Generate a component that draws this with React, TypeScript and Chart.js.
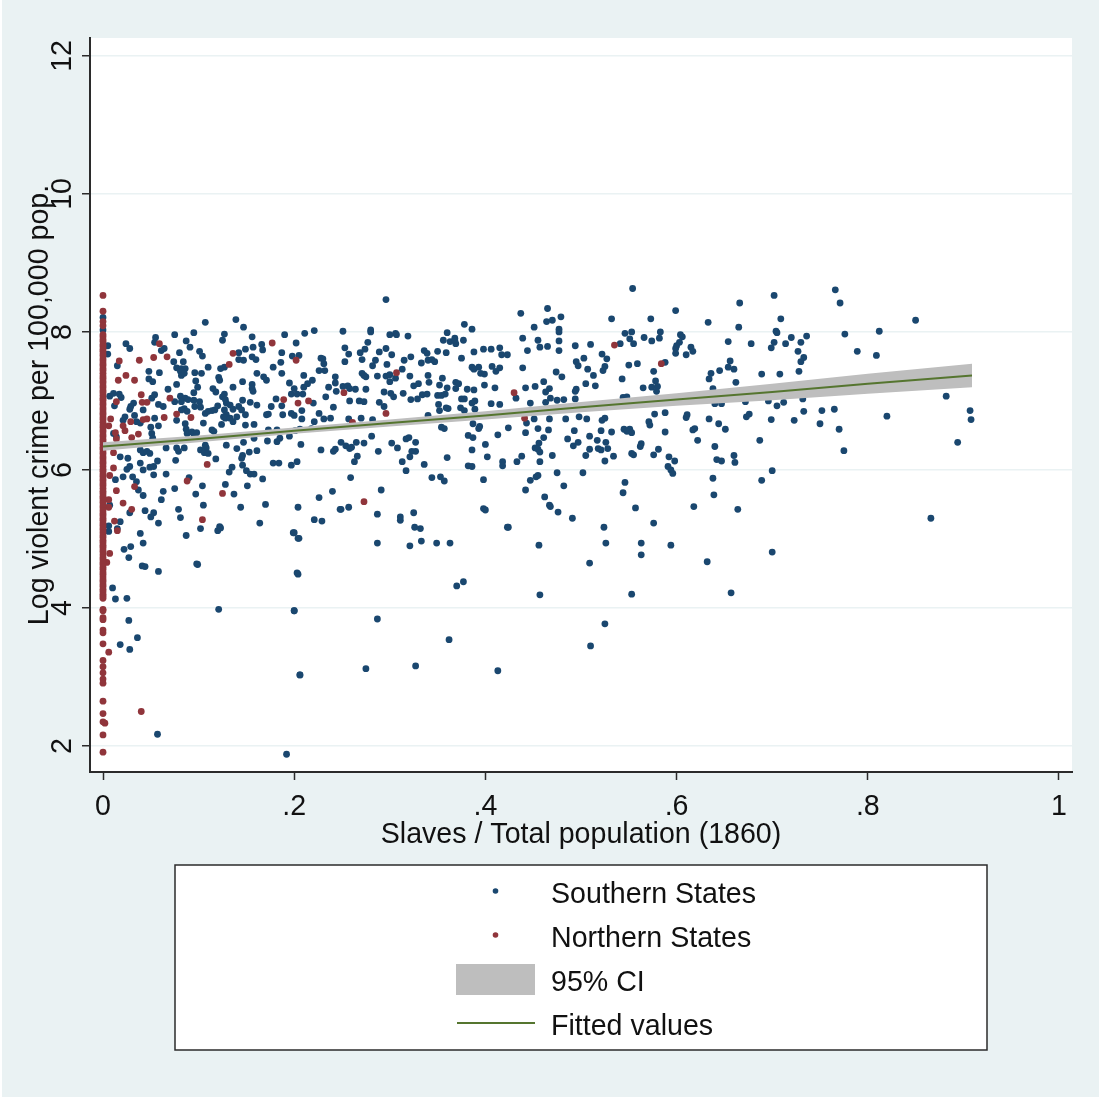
import React, { useEffect, useRef } from "react";
import { Chart, registerables } from "chart.js";

Chart.register(...registerables);

const xTickValues = [0, 0.2, 0.4, 0.6, 0.8, 1];
const xTickLabels = ["0", ".2", ".4", ".6", ".8", "1"];
const yTickValues = [2, 4, 6, 8, 10, 12];
const yTickLabels = ["2", "4", "6", "8", "10", "12"];
const xAxisTitle = "Slaves / Total population (1860)";
const yAxisTitle = "Log violent crime per 100,000 pop.";
const legendNames = ["Southern States", "Northern States", "95% CI", "Fitted values"];

type P = [number, number];

const southernUpperLeft: P[] = [
[0,8.21],[0,8.03],[.107,8.14],[.139,8.18],[.147,8.07],[.095,7.99],[.075,7.96],[.055,7.92],[.127,7.97],[.125,7.88],[.156,7.93],[.190,7.96],[.211,7.98],[.221,8.02],
[.024,7.83],[.028,7.76],[.054,7.85],[.087,7.87],[.091,7.78],[.080,7.70],[.061,7.73],[.064,7.76],[.101,7.72],[.104,7.65],[.142,7.70],[.149,7.75],[.157,7.78],[.166,7.82],[.167,7.74],[.187,7.70],[.202,7.84],[.198,7.65],[.205,7.66],[.228,7.62],[.230,7.61],
[.005,7.80],[.005,7.68],[.015,7.51],[.074,7.57],[.084,7.57],[.077,7.48],[.082,7.47],[.086,7.47],[.081,7.43],[.082,7.37],[.085,7.40],[.096,7.41],[.103,7.40],[.110,7.49],[.048,7.43],[.059,7.41],[.048,7.32],[.052,7.28],[.097,7.29],[.077,7.24],[.121,7.34],[.122,7.30],[.127,7.49],[.123,7.47],[.142,7.60],[.147,7.59],[.156,7.64],[.160,7.60],[.178,7.49],[.186,7.56],[.161,7.40],[.168,7.35],[.171,7.30],[.187,7.40],[.195,7.26],[.210,7.37],[.219,7.30],[.214,7.25],[.200,7.18],[.210,7.20],[.197,7.10],[.203,7.10],[.209,7.10],[.236,7.20],[.243,7.35],[.243,7.26],[.231,7.54],[.232,7.44],[.226,7.44],[.244,7.14],[.233,7.06],
[.146,7.28],[.156,7.24],[.156,7.18],[.157,7.14],[.136,7.20],[.115,7.18],[.118,7.13],[.068,7.17],[.099,7.20],[.095,7.12],[.127,7.10],[.125,7.06],[.128,7.02],
[.007,7.07],[.011,7.11],[.017,7.10],[.019,7.05],[.012,6.93],[.032,6.97],[.029,6.92],[.028,6.88],[.051,7.04],[.054,7.09],[.058,6.95],[.063,6.92],[.081,7.07],[.086,7.04],[.089,7.02],[.075,6.99],[.082,6.99],[.095,7.01],[.101,6.99],[.096,6.92],[.102,6.91],[.085,6.89],[.088,6.85],[.082,6.87],[.107,6.82],[.110,6.85],[.114,6.86],[.117,6.87],[.120,6.93],[.129,6.97],[.133,6.94],[.127,6.87],[.129,6.80],[.126,6.77],[.136,6.88],[.142,6.92],[.145,6.87],[.149,6.80],[.146,7.01],[.154,6.98],[.161,6.94],[.176,6.92],[.187,6.93],[.181,7.03],[.171,6.80],[.173,6.81],[.188,6.80],[.197,6.82],[.200,6.79],[.208,6.86],[.208,6.74],[.221,6.70],[.220,6.97],[.226,6.82],[.231,6.74],[.241,6.91],[.238,6.75],
[.023,6.77],[.021,6.72],[.033,6.79],[.035,6.70],[.039,6.68],[.042,6.87],[.054,6.75],[.058,6.64],[.050,6.62],[.051,6.53],[.052,6.46],[.077,6.72],[.086,6.67],[.087,6.59],[.088,6.53],[.093,6.55],[.095,6.53],[.098,6.54],[.124,6.66],[.128,6.75],[.133,6.75],[.136,6.70],[.140,6.77],[.149,6.65],[.158,6.66],[.114,6.58],[.116,6.56],[.105,6.68],[.173,6.58],[.182,6.58],[.185,6.46],[.195,6.49],[.201,6.57],[.206,6.59],[.218,6.60],[.182,6.41],[.172,6.42],[.147,6.40],[.158,6.46],
];

const southernLowerLeft: P[] = [
[.011,6.53],[.014,6.48],[.018,6.19],[.026,6.17],[.039,6.10],[.028,6.05],[.025,6.01],[.042,6.00],[.049,6.04],[.053,6.05],[.057,6.13],[.053,5.93],[.039,6.29],[.042,6.25],[.046,6.27],[.049,6.24],[.066,6.32],[.076,6.14],[.077,6.32],[.079,6.27],[.085,6.32],[.102,6.29],[.107,6.36],[.108,6.32],[.106,6.25],[.110,6.24],[.118,6.16],[.129,6.36],[.140,6.31],[.146,6.21],[.145,6.17],[.146,6.07],[.153,6.26],[.161,6.28],[.178,6.10],[.184,6.10],[.197,6.07],[.203,6.12],[.207,6.37],[.228,6.29],[.243,6.30],[.241,6.27],
[.135,6.04],[.132,5.97],[.150,5.99],[.154,5.94],[.158,5.94],[.167,5.87],[.151,5.77],[.128,5.79],[.137,5.65],[.090,5.89],[.075,5.73],[.063,5.69],[.061,5.57],[.097,5.65],[.104,5.77],[.031,5.90],[.021,5.90],[.013,5.86],[.035,5.83],[.037,5.71],[.042,5.63],[.066,5.94],[.105,5.49],[.144,5.46],[.170,5.50],[.204,5.46],[.226,5.60],[.240,5.69],[.248,5.43],[.079,5.43],[.044,5.41],[.053,5.38],[.050,5.32],[.028,5.38],[.007,5.49],[.018,5.25],[.006,5.19],[.058,5.23],[.081,5.31],[.164,5.23],[.221,5.28],[.229,5.26],[.122,5.18],
[.006,5.11],[.015,5.15],[.039,5.08],[.042,4.94],[.029,4.89],[.022,4.85],[.027,4.73],[.041,4.61],[.044,4.60],[.058,4.53],[.087,5.05],[.102,5.15],[.120,5.12],[.123,5.16],[.199,5.09],[.205,5.01],[.099,4.63],[.204,4.49],[.010,4.29],[.013,4.13],[.025,4.14],[.121,3.98],[.200,3.96],[.027,3.82],[.036,3.57],[.018,3.47],[.028,3.40],[.206,3.03],[.057,2.17],[.192,1.88],
];

const southernUpperMiddle: P[] = [
[.296,8.47],[.437,8.27],[.465,8.34],[.470,8.17],[.464,8.15],[.479,8.22],[.451,8.07],[.477,8.04],[.477,8.00],[.378,8.11],[.386,8.04],[.251,8.01],[.280,8.03],[.280,8.00],[.300,7.96],[.306,7.98],[.307,7.96],[.319,7.94],[.360,7.99],[.356,7.88],[.363,7.86],[.368,7.91],[.369,7.83],[.368,7.88],[.377,7.88],[.439,7.91],[.455,7.88],[.457,7.78],[.465,7.79],[.477,7.87],[.477,7.73],[.444,7.73],[.494,7.80],[.510,7.82],[.277,7.85],[.253,7.77],[.257,7.68],[.269,7.70],[.274,7.75],[.289,7.71],[.296,7.76],[.302,7.67],[.336,7.73],[.339,7.69],[.350,7.72],[.359,7.70],[.388,7.71],[.398,7.75],[.406,7.75],[.415,7.77],[.417,7.67],[.423,7.67],
[.253,7.57],[.271,7.60],[.285,7.59],[.282,7.51],[.297,7.53],[.315,7.59],[.322,7.64],[.333,7.55],[.340,7.59],[.344,7.60],[.347,7.57],[.375,7.62],[.386,7.49],[.388,7.46],[.393,7.49],[.395,7.40],[.399,7.39],[.407,7.50],[.415,7.48],[.411,7.43],[.439,7.48],[.474,7.42],[.480,7.35],[.495,7.57],[.497,7.51],[.503,7.62],[.507,7.46],[.513,7.37],
[.271,7.40],[.273,7.37],[.275,7.35],[.287,7.36],[.296,7.36],[.300,7.38],[.306,7.33],[.300,7.28],[.313,7.46],[.321,7.36],[.340,7.37],[.341,7.27],[.355,7.33],[.325,7.22],[.330,7.25],[.352,7.23],[.369,7.27],[.372,7.25],[.369,7.18],[.360,7.19],[.381,7.17],[.388,7.16],[.399,7.23],[.410,7.19],[.442,7.19],[.452,7.21],[.461,7.28],[.467,7.18],[.463,7.13],[.505,7.25],[.515,7.22],[.495,7.17],[.494,7.14],[.494,7.03],
[.251,7.21],[.256,7.22],[.258,7.18],[.264,7.17],[.275,7.17],[.294,7.13],[.301,7.11],[.304,7.06],[.314,7.11],[.322,7.02],[.329,7.03],[.334,7.09],[.339,7.10],[.350,7.08],[.354,7.08],[.358,7.10],[.375,7.03],[.378,7.03],[.386,6.97],[.389,7.00],[.432,7.04],[.468,7.04],[.463,6.98],[.475,7.01],[.482,7.02],[.258,7.00],[.268,7.00],[.273,6.99],[.289,6.98],[.294,6.92],[.351,6.95],[.359,6.90],[.352,6.86],[.361,6.89],[.374,6.90],[.378,6.86],[.389,6.88],[.406,6.96],[.415,6.95],[.447,6.97],
];

const southernLowerMiddle: P[] = [
[.257,6.74],[.270,6.75],[.282,6.73],[.340,6.79],[.498,6.77],[.506,6.74],[.467,6.74],[.451,6.74],[.484,6.74],[.443,6.68],[.387,6.67],[.354,6.62],[.357,6.60],[.394,6.63],[.393,6.60],[.424,6.61],[.455,6.60],[.466,6.58],[.493,6.57],[.442,6.54],[.413,6.51],[.281,6.49],[.382,6.50],[.387,6.47],[.509,6.49],[.461,6.47],[.486,6.45],[.517,6.43],
[.249,6.40],[.265,6.40],[.273,6.39],[.254,6.35],[.258,6.31],[.260,6.33],[.302,6.39],[.308,6.32],[.317,6.45],[.320,6.47],[.327,6.40],[.288,6.27],[.323,6.27],[.327,6.27],[.321,6.19],[.400,6.37],[.386,6.29],[.452,6.32],[.456,6.39],[.455,6.30],[.457,6.26],[.492,6.35],[.497,6.40],[.509,6.30],[.505,6.21],[.518,6.31],[.360,6.18],[.402,6.19],[.438,6.20],[.470,6.21],[.266,6.20],[.263,6.12],[.313,6.12],[.336,6.08],[.382,6.06],[.386,6.05],[.418,6.12],[.418,6.06],[.433,6.12],[.457,6.12],[.317,5.99],[.475,5.96],[.502,5.96],
[.259,5.89],[.344,5.89],[.353,5.90],[.357,5.84],[.398,5.86],[.447,5.85],[.453,5.90],[.455,5.92],[.482,5.77],[.291,5.71],[.442,5.71],[.462,5.61],[.467,5.49],[.468,5.47],[.476,5.39],[.249,5.43],[.257,5.46],[.287,5.36],[.325,5.38],[.398,5.44],[.400,5.42],[.311,5.27],[.491,5.30],[.332,5.15],[.423,5.17],
];

const southernRight: P[] = [
[.554,8.63],[.766,8.61],[.702,8.53],[.771,8.42],[.666,8.42],[.599,8.31],[.532,8.19],[.573,8.19],[.709,8.19],[.850,8.17],[.633,8.14],[.665,8.07],[.704,8.01],[.705,7.99],[.812,8.01],[.546,7.98],[.553,8.00],[.583,8.00],[.776,7.97],[.604,7.96],[.606,7.93],[.551,7.90],[.566,7.92],[.582,7.91],[.574,7.87],[.720,7.92],[.736,7.94],[.541,7.83],[.555,7.83],[.654,7.86],[.678,7.83],[.702,7.85],[.699,7.77],[.714,7.83],[.730,7.85],[.603,7.85],[.600,7.80],[.599,7.76],[.615,7.78],[.617,7.72],[.599,7.69],[.610,7.67],[.727,7.72],[.789,7.72],[.809,7.66],[.522,7.68],[.527,7.61],[.733,7.63],[.730,7.57],[.656,7.58],[.588,7.56],[.559,7.54],[.550,7.52],[.525,7.50],[.523,7.44],[.654,7.49],[.660,7.46],[.645,7.44],[.576,7.43],[.636,7.40],[.634,7.32],[.689,7.39],[.708,7.39],[.728,7.43],[.543,7.32],[.578,7.29],[.662,7.27],[.565,7.19],[.574,7.20],[.580,7.21],[.579,7.14],[.638,7.18],[.544,7.05],[.548,7.06],[.672,6.99],[.640,6.96],[.647,6.96],[.696,7.00],[.705,6.93],[.712,6.98],[.732,7.03],[.882,7.07],[.907,6.86],[.908,6.73],[.820,6.78],[.765,6.88],[.752,6.86],[.733,6.85],[.577,6.81],[.588,6.83],[.525,6.75],[.522,6.72],[.611,6.80],[.610,6.76],[.676,6.81],[.673,6.77],[.634,6.74],[.699,6.73],[.723,6.72],[.571,6.70],[.572,6.65],[.644,6.67],[.651,6.59],[.750,6.67],[.770,6.59],[.619,6.60],[.617,6.58],[.521,6.57],[.532,6.55],[.545,6.59],[.551,6.59],[.548,6.56],[.553,6.54],[.588,6.55],[.622,6.43],[.687,6.43],[.894,6.40],[.526,6.40],[.563,6.38],[.562,6.34],[.640,6.34],[.528,6.31],[.521,6.29],[.581,6.30],[.775,6.28],[.534,6.20],[.553,6.24],[.555,6.22],[.576,6.22],[.592,6.19],[.660,6.21],[.525,6.13],[.598,6.13],[.642,6.15],[.647,6.13],[.661,6.11],[.591,6.05],[.594,6.00],[.596,5.95],[.700,5.99],[.689,5.85],[.638,5.88],[.546,5.82],[.544,5.67],[.639,5.64],[.557,5.45],[.618,5.47],[.664,5.43],[.576,5.23],[.866,5.30],[.524,5.17],
];

const southernBottom: P[] = [
[.526,4.94],[.563,4.94],[.563,4.77],[.594,4.91],[.456,4.91],[.349,4.94],[.287,4.94],[.321,4.90],[.333,4.97],[.363,4.94],[.424,5.17],[.509,4.65],[.632,4.67],[.700,4.81],[.457,4.19],[.553,4.20],[.657,4.22],[.370,4.32],[.377,4.38],[.525,3.77],[.510,3.45],[.362,3.54],[.287,3.84],[.275,3.12],[.327,3.16],[.413,3.09],[.206,3.03],[.200,3.96],[.203,4.51],[.204,5.01],[.200,5.09],[.098,4.64],[.311,5.32],[.326,5.17],
];

const northernOffAxis: P[] = [
[.059,7.83],[.017,7.58],[.038,7.59],[.053,7.63],[.067,7.64],[.136,7.69],[.132,7.53],[.202,7.59],[.177,7.84],[.016,7.30],[.024,7.37],[.033,7.30],[.040,7.09],[.014,6.99],[.070,7.04],[.041,6.98],[.046,6.98],[.189,7.02],[.204,6.97],[.215,7.00],[.064,6.76],[.077,6.81],[.092,6.76],[.008,6.74],[.029,6.70],[.042,6.73],[.046,6.74],[.006,6.64],[.021,6.64],[.023,6.57],[.013,6.54],[.030,6.47],[.037,6.52],[.014,6.45],[.109,6.08],[.011,6.25],[.011,6.03],[.007,5.92],[.088,5.84],[.033,5.76],[.014,5.70],[.125,5.66],[.006,5.57],[.021,5.52],[.030,5.43],[.006,5.46],[.012,5.26],[.104,5.28],[.015,5.12],[.007,4.79],[.004,4.66],[.006,3.36],[.040,2.50],[.002,2.33],
[.252,7.12],[.307,7.41],[.430,7.12],[.296,6.82],[.261,6.69],[.273,5.54],[.441,6.75],[.535,7.81],[.584,7.54],
];

const northernAtZero = [
8.53,8.30,8.15,8.09,7.96,7.93,7.89,7.86,7.82,7.79,7.75,7.72,7.68,7.65,7.61,7.58,7.54,7.51,7.47,7.44,7.40,7.36,7.33,7.29,7.26,7.22,7.19,7.15,7.12,7.08,7.04,7.01,6.97,6.94,6.90,6.87,6.83,6.80,6.76,6.73,6.69,6.65,6.62,6.58,6.55,6.51,6.48,6.44,6.41,6.37,6.33,6.30,6.26,6.23,6.19,6.16,6.12,6.09,6.05,6.01,5.98,5.94,5.91,5.87,5.84,5.80,5.77,5.73,5.69,5.66,5.62,5.59,5.55,5.52,5.48,5.45,5.41,5.37,5.34,5.30,5.27,5.23,5.20,5.16,5.13,5.09,5.05,5.02,4.98,4.95,4.91,4.88,4.84,4.81,4.77,4.73,4.70,4.66,4.63,4.59,4.56,4.52,4.49,4.45,4.41,4.38,4.34,4.31,4.27,4.24,4.20,4.17,4.14,
3.98,3.96,3.86,3.83,3.68,3.64,3.48,3.24,3.15,3.06,2.97,2.91,2.65,2.47,2.35,2.16,1.91,
];

const fitX = [0, 0.1, 0.2, 0.3, 0.4, 0.5, 0.6, 0.7, 0.8, 0.909];
const fitY = [6.34, 6.45, 6.57, 6.68, 6.79, 6.91, 7.02, 7.13, 7.25, 7.37];
const ciHigh = [6.40, 6.50, 6.615, 6.73, 6.85, 6.985, 7.11, 7.25, 7.395, 7.54];
const ciLow = [6.28, 6.40, 6.525, 6.63, 6.73, 6.835, 6.93, 7.01, 7.105, 7.20];

const NAVY = "#1A476F";
const MAROON = "#90353B";
const BAND = "#BEBEBE";
const GREEN = "#55752F";
const PAGE = "#EAF2F3";
const INK = "#2B2B2B";
const FONT = "'Liberation Sans', Arial, sans-serif";
const FONT_SIZE = 28.6;

const toPoints = (xs: number[], ys: number[]) => xs.map((x, i) => ({ x, y: ys[i] }));
const pairs = (list: P[]) => list.map(([x, y]) => ({ x, y }));

const southern = pairs([
  ...southernUpperLeft,
  ...southernLowerLeft,
  ...southernUpperMiddle,
  ...southernLowerMiddle,
  ...southernRight,
  ...southernBottom,
]);
const northern = [...pairs(northernOffAxis), ...northernAtZero.map((y) => ({ x: 0, y }))];

const pageBackground = {
  id: "pageBackground",
  beforeDraw(chart: any) {
    const { ctx, chartArea: a, width, height } = chart;
    ctx.save();
    ctx.fillStyle = "#FFFFFF";
    ctx.fillRect(0, 0, width, height);
    ctx.fillStyle = PAGE;
    ctx.fillRect(2, 0, width - 2, height);
    ctx.fillStyle = "#FFFFFF";
    ctx.fillRect(a.left, a.top, a.right - a.left, a.bottom - a.top);
    ctx.restore();
  },
};

const stataLegend = {
  id: "stataLegend",
  afterDraw(chart: any) {
    const { ctx } = chart;
    ctx.save();
    ctx.fillStyle = "#FFFFFF";
    ctx.fillRect(175, 865, 812, 185);
    ctx.strokeStyle = INK;
    ctx.lineWidth = 1.5;
    ctx.strokeRect(175, 865, 812, 185);

    const rows = [893, 937, 981, 1025];
    ctx.fillStyle = NAVY;
    ctx.beginPath();
    ctx.arc(495.5, rows[0] - 2, 2.8, 0, Math.PI * 2);
    ctx.fill();
    ctx.fillStyle = MAROON;
    ctx.beginPath();
    ctx.arc(495.5, rows[1] - 2, 2.8, 0, Math.PI * 2);
    ctx.fill();
    ctx.fillStyle = BAND;
    ctx.fillRect(456, 964, 79, 31);
    ctx.strokeStyle = GREEN;
    ctx.lineWidth = 1.8;
    ctx.beginPath();
    ctx.moveTo(457, 1023);
    ctx.lineTo(535, 1023);
    ctx.stroke();

    ctx.fillStyle = "#111111";
    ctx.font = `${FONT_SIZE}px ${FONT}`;
    ctx.textBaseline = "middle";
    ctx.textAlign = "left";
    legendNames.forEach((name, i) => ctx.fillText(name, 551, rows[i] + 2));
    ctx.restore();
  },
};

export default function App() {
  const ref = useRef<HTMLCanvasElement | null>(null);

  useEffect(() => {
    document.body.style.margin = "0";
    const chart = new Chart(ref.current as HTMLCanvasElement, {
      type: "scatter",
      data: {
        datasets: [
          {
            label: legendNames[3],
            data: toPoints(fitX, fitY),
            showLine: true,
            borderColor: GREEN,
            borderWidth: 2,
            pointRadius: 0,
            order: 1,
          },
          {
            label: legendNames[2],
            data: toPoints(fitX, ciHigh),
            showLine: true,
            borderWidth: 0,
            borderColor: BAND,
            backgroundColor: BAND,
            pointRadius: 0,
            fill: 2,
            order: 2,
          },
          {
            label: "CI lower",
            data: toPoints(fitX, ciLow),
            showLine: true,
            borderWidth: 0,
            pointRadius: 0,
            order: 3,
          },
          {
            label: legendNames[1],
            data: northern,
            backgroundColor: MAROON,
            borderWidth: 0,
            pointRadius: 3.4,
            order: 4,
          },
          {
            label: legendNames[0],
            data: southern,
            backgroundColor: NAVY,
            borderWidth: 0,
            pointRadius: 3.4,
            order: 5,
          },
        ] as any,
      },
      options: {
        animation: false,
        responsive: false,
        layout: { padding: { left: 0, top: 38, right: 27, bottom: 245 } },
        plugins: { legend: { display: false }, tooltip: { enabled: false } },
        scales: {
          x: {
            type: "linear",
            min: -0.0136,
            max: 1.0136,
            afterBuildTicks: (s: any) => {
              s.ticks = xTickValues.map((value) => ({ value }));
            },
            afterFit: (s: any) => {
              s.height = 80;
            },
            border: { color: INK, width: 2 },
            grid: { drawOnChartArea: false, tickColor: INK, tickLength: 8, tickWidth: 1.5 },
            ticks: {
              autoSkip: false,
              maxRotation: 0,
              padding: 10,
              color: "#111111",
              font: { family: FONT, size: FONT_SIZE },
              callback: (v: any) => xTickLabels[xTickValues.indexOf(v)],
            },
            title: {
              display: true,
              text: xAxisTitle,
              color: "#111111",
              font: { family: FONT, size: FONT_SIZE },
              padding: { top: 0, bottom: 0 },
            },
          },
          y: {
            type: "linear",
            min: 1.623,
            max: 12.26,
            afterBuildTicks: (s: any) => {
              s.ticks = yTickValues.map((value) => ({ value }));
            },
            afterFit: (s: any) => {
              s.width = 90;
            },
            border: { color: INK, width: 2 },
            grid: { color: PAGE, lineWidth: 1.5, tickColor: INK, tickLength: 8, tickWidth: 1.5 },
            ticks: {
              autoSkip: false,
              minRotation: 90,
              maxRotation: 90,
              crossAlign: "center",
              padding: 3,
              color: "#111111",
              font: { family: FONT, size: FONT_SIZE },
              callback: (v: any) => yTickLabels[yTickValues.indexOf(v)],
            },
            title: {
              display: true,
              text: yAxisTitle,
              color: "#111111",
              font: { family: FONT, size: FONT_SIZE },
              padding: { top: 23, bottom: 0 },
            },
          },
        },
      } as any,
      plugins: [pageBackground, stataLegend],
    });
    return () => chart.destroy();
  }, []);

  return <canvas ref={ref} width={1099} height={1097} style={{ display: "block", width: 1099, height: 1097 }} />;
}
